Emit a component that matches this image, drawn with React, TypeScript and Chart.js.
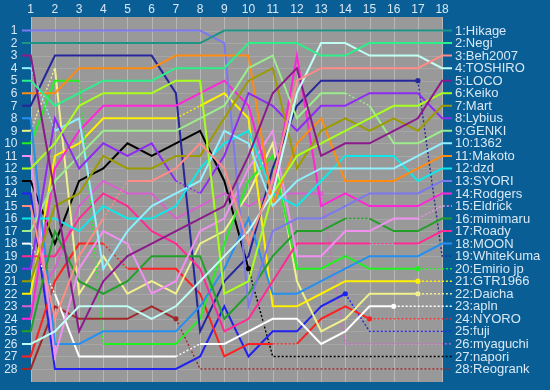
import { useEffect, useRef } from 'react';
import { Chart, registerables } from 'chart.js';
Chart.register(...registerables);

const laps = [1, 2, 3, 4, 5, 6, 7, 8, 9, 10, 11, 12, 13, 14, 15, 16, 17, 18];
const rankTicks = [1, 2, 3, 4, 5, 6, 7, 8, 9, 10, 11, 12, 13, 14, 15, 16, 17, 18, 19, 20, 21, 22, 23, 24, 25, 26, 27, 28];

const names = ['Hikage', 'Negi', 'Beh2007', 'TOSHIRO', 'LOCO', 'Keiko', 'Mart', 'Lybius', 'GENKI', '1362', 'Makoto', 'dzd', 'SYORI', 'Rodgers', 'Eldrick', 'mimimaru', 'Roady', 'MOON', 'WhiteKuma', 'Emirio jp', 'GTR1966', 'Daicha', 'apln', 'NYORO', 'fuji', 'myaguchi', 'napori', 'Reogrank'];

const colors = ['#1e9486', '#2ef08a', '#ff8c86', '#c0fff4', '#8c1a8c', '#a8ff1e', '#9c9c00', '#8e2cf2', '#9cec8c', '#90f0ff', '#ff8c10', '#10e8e8', '#7c78f0', '#ff26d8', '#f090f0', '#22a02a', '#ff2a96', '#2690f0', '#26269c', '#22f022', '#fff000', '#f0f08c', '#ffffff', '#ff2020', '#2222f0', '#d860d0', '#000000', '#a02828'];

const hikage = [2, 2, 2, 2, 2, 2, 2, 2, 1, 1, 1, 1, 1, 1, 1, 1, 1, 1];
const negi = [5, 7, 6, 5, 5, 5, 4, 4, 4, 2, 2, 2, 3, 3, 2, 2, 2, 2];
const beh2007 = [15, 24, 19, 16, 13, 13, 12, 10, 12, 18, 13, 5, 4, 4, 4, 4, 4, 3];
const toshiro = [26, 25, 23, 23, 23, 24, 23, 21, 19, 17, 14, 6, 2, 2, 3, 3, 3, 4];
const loco = [3, 14, 25, 21, 19, 18, 17, 16, 15, 11, 6, 4, 11, 10, 10, 9, 8, 5];
const keiko = [12, 10, 7, 6, 6, 6, 5, 5, 22, 21, 14, 11, 10, 9, 8, 7, 7, 6];
const mart = [21, 15, 14, 11, 12, 12, 11, 11, 8, 5, 4, 12, 9, 8, 9, 8, 9, 7];
const lybius = [20, 8, 12, 10, 11, 10, 13, 14, 11, 6, 7, 9, 7, 7, 6, 6, 6, 8];
const genki = [17, 13, 11, 9, 9, 9, 9, 8, 7, 4, 3, 8, 6, 6, 7, 10, 10, 9];
const n1362 = [4, 9, 8, 20, 17, 15, 14, 13, 9, 10, 15, 13, 12, 12, 12, 12, 11, 10];
const makoto = [6, 6, 4, 4, 4, 4, 3, 3, 3, 3, 15, 10, 8, 13, 13, 13, 12, 11];
const dzd = [16, 16, 17, 15, 16, 16, 15, 12, 10, 9, 14, 15, 13, 11, 11, 11, 13, 12];
const syori = [1, 1, 1, 1, 1, 1, 1, 1, 2, 23, 17, 16, 16, 15, 14, 14, 14, 13];
const rodgers = [24, 12, 9, 7, 7, 7, 7, 6, 5, 7, 14, 3, 15, 14, 15, 15, 15, 14];
const eldrick = [11, 27, 20, 17, 18, 22, 21, 17, 16, 12, 9, 19, 19, 17, 17, 16, 16, 15];
const mimimaru = [25, 17, 21, 22, 21, 19, 19, 19, 24, 22, 19, 17, 17, 16, 16, 17, 17, 16];
const roady = [19, 19, 16, 14, 15, 17, 18, 20, 25, 24, 21, 18, 18, 18, 18, 18, 18, 17];
const moon = [8, 26, 26, 25, 25, 25, 25, 23, 20, 16, 22, 22, 21, 20, 19, 19, 19, 18];
const whiteKuma = [7, 3, 3, 3, 3, 3, 6, 25, 21, 19, 12, 7, 5, 5, 5, 5, 5, 19];
const emirio = [10, 5, 5, 26, 26, 26, 26, 24, 18, 13, 11, 20, 20, 19, 20, 20, 20, 20];
const gtr1966 = [22, 11, 10, 8, 8, 8, 8, 7, 6, 8, 23, 23, 22, 21, 21, 21, 21, 21];
const daicha = [9, 4, 22, 19, 22, 21, 22, 18, 17, 14, 10, 21, 25, 24, 22, 22, 22, 22];
const apln = [18, 22, 27, 27, 27, 27, 27, 26, 26, 25, 24, 24, 26, 25, 23, 23, 23, 23];
const nyoro = [27, 21, 18, 18, 20, 20, 20, 22, 27, 26, 26, 26, 24, 23, 24, 24, 24, 24];
const fuji = [14, 28, 28, 28, 28, 28, 28, 27, 23, 27, 25, 25, 23, 22, 25, 25, 25, 25];
const myaguchi = [23, 20, 15, 13, 14, 14, 16, 15, 14, 15, 14, 14, 14, 26, 26, 26, 26, 26];
const napori = [13, 18, 13, 12, 10, 11, 10, 9, 13, 20, 27, 27, 27, 27, 27, 27, 27, 27];
const reogrank = [28, 23, 24, 24, 24, 23, 24, 28, 28, 28, 28, 28, 28, 28, 28, 28, 28, 28];

const ranks = [hikage, negi, beh2007, toshiro, loco, keiko, mart, lybius, genki, n1362, makoto, dzd, syori, rodgers, eldrick, mimimaru, roady, moon, whiteKuma, emirio, gtr1966, daicha, apln, nyoro, fuji, myaguchi, napori, reogrank];

// laps whose segment to the next lap is drawn dotted (missing data)
const dottedLaps: number[][] = [
  [], [], [4], [], [], [], [], [7], [14], [1], [], [], [], [], [17], [14], [15], [], [17], [3, 17], [7, 17], [1, 17],
  [1, 7, 16, 17], [4, 11, 15, 16, 17], [14, 15, 16, 17], [13, 14, 15, 16, 17],
  [10, 11, 12, 13, 14, 15, 16, 17], [7, 8, 9, 10, 11, 12, 13, 14, 15, 16, 17],
];
// lap with a point marker (last reported lap)
const markerLap: (number | null)[] = [
  null, null, null, null, null, null, null, null, null, null, null, null, null, null, null, null, null, null,
  17, 17, 17, 17, 16, 15, 14, 13, 10, 7,
];

const BLUE = '#0a5e96';
const GREY = '#999999';
const TEXT = '#d8e8f4';
const STUB_LEFT = 0.64;
const STUB_RIGHT = 18.41;

const framePlugin = {
  id: 'frame',
  beforeDraw(chart: any) {
    const { ctx, width, height } = chart;
    const x = chart.scales.x;
    const y = chart.scales.y;
    ctx.save();
    ctx.fillStyle = BLUE;
    ctx.fillRect(0, 0, width, height);
    const l = Math.round(x.getPixelForValue(1));
    const r = Math.round(x.getPixelForValue(18)) + 1;
    const t = Math.round(y.getPixelForValue(0)) - 1;
    const b = Math.round(y.getPixelForValue(29));
    ctx.fillStyle = GREY;
    ctx.fillRect(l, t, r - l, b - t);
    ctx.lineWidth = 1;
    ctx.strokeStyle = 'rgba(255,255,255,0.13)';
    for (const rk of rankTicks) {
      const py = Math.round(y.getPixelForValue(rk)) + 0.5;
      ctx.beginPath();
      ctx.moveTo(l, py);
      ctx.lineTo(r, py);
      ctx.stroke();
    }
    ctx.strokeStyle = 'rgba(255,255,255,0.3)';
    for (const lap of laps) {
      const px = Math.round(x.getPixelForValue(lap)) + 0.5;
      ctx.beginPath();
      ctx.moveTo(px, t);
      ctx.lineTo(px, b);
      ctx.stroke();
    }
    ctx.restore();
  },
  afterDraw(chart: any) {
    const { ctx } = chart;
    const x = chart.scales.x;
    const y = chart.scales.y;
    ctx.save();
    ctx.fillStyle = TEXT;
    ctx.textBaseline = 'middle';
    ctx.font = '12px "Liberation Sans", Arial, sans-serif';
    ctx.textAlign = 'right';
    for (const rk of rankTicks) {
      ctx.fillText(String(rk), 17.5, y.getPixelForValue(rk) + 0.5);
    }
    ctx.textAlign = 'center';
    for (const lap of laps) {
      ctx.fillText(String(lap), x.getPixelForValue(lap), 10);
    }
    ctx.textAlign = 'left';
    ctx.font = '13px "Liberation Sans", Arial, sans-serif';
    names.forEach((name, i) => {
      const r = ranks[i];
      const fin = r[r.length - 1];
      ctx.fillText(`${fin}:${name}`, x.getPixelForValue(STUB_RIGHT) + 3, y.getPixelForValue(fin) + 0.5);
    });
    ctx.restore();
  },
};

export default function App() {
  const ref = useRef<HTMLCanvasElement>(null);
  useEffect(() => {
    const datasets = names.map((name, i) => {
      const r = ranks[i];
      const dots = new Set(dottedLaps[i]);
      const pts = [
        { x: STUB_LEFT, y: r[0] },
        ...laps.map((lap, j) => ({ x: lap, y: r[j] })),
        { x: STUB_RIGHT, y: r[r.length - 1] },
      ];
      const isDotted = (k: number) => {
        if (k === 0) return false;
        if (k >= laps.length) return dots.has(17);
        return dots.has(laps[k - 1]);
      };
      const m = markerLap[i];
      return {
        label: name,
        data: pts,
        borderColor: colors[i],
        backgroundColor: colors[i],
        borderWidth: 2,
        tension: 0,
        fill: false,
        clip: false as any,
        pointRadius: pts.map((p, k) => (m !== null && k === m ? 2.6 : 0)),
        pointBorderWidth: 0,
        pointBackgroundColor: colors[i],
        segment: {
          borderDash: (c: any) => (isDotted(c.p0DataIndex) ? [2, 2] : undefined),
          borderWidth: (c: any) => (isDotted(c.p0DataIndex) ? 1.4 : 2),
        },
      };
    });
    const chart = new Chart(ref.current as HTMLCanvasElement, {
      type: 'line',
      data: { datasets: datasets as any },
      options: {
        animation: false,
        responsive: true,
        maintainAspectRatio: false,
        events: [],
        layout: { padding: { left: 21, right: 97, top: 18, bottom: 8.5 } },
        scales: {
          x: { type: 'linear', min: 0.6, max: 18.45, display: false },
          y: { type: 'linear', min: 0, max: 29, reverse: true, display: false },
        },
        plugins: { legend: { display: false }, tooltip: { enabled: false } },
      },
      plugins: [framePlugin],
    });
    return () => chart.destroy();
  }, []);
  return (
    <div style={{ position: 'absolute', left: 0, top: 0, width: 550, height: 390 }}>
      <canvas ref={ref} />
    </div>
  );
}
